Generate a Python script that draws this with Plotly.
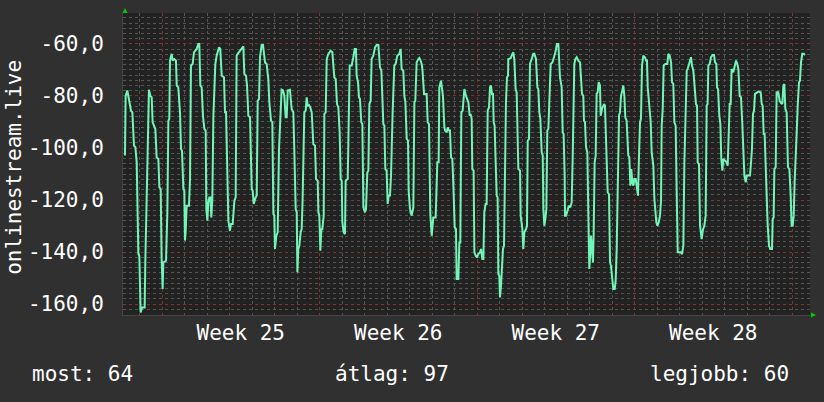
import plotly.graph_objects as go

# time in hours relative to Monday 00:00 of Week 25, value in dB
hours = [
    -39.5, -38.8, -37.0, -35.6, -34.8, -33.1, -31.6, -29.9, -28.4, -27.0, -26.0, -25.2, -24.2, -23.5, -22.8,
    -21.3, -18.5, -17.8, -16.7, -16.0, -14.9, -13.9, -12.4, -11.0, -10.0, -8.2, -7.1, -5.7, -3.9, -2.8, -1.4,
    -0.4, 0.7, 1.4, 4.3, 5.7, 6.8, 7.8, 8.5, 10.3, 11.4, 13.2, 14.9, 15.7, 17.4, 19.2, 20.3, 21.3, 22.8, 23.8,
    24.5, 25.2, 26.3, 28.8, 29.9, 30.9, 32.7, 34.1, 37.0, 38.8, 39.8, 40.9, 42.3, 43.7, 45.2, 46.6, 47.3, 48.4,
    49.4, 50.5, 51.6, 52.6, 53.7, 54.8, 55.8, 56.9, 58.3, 59.4, 60.8, 62.2, 63.7, 66.1, 67.2, 68.3, 69.0, 69.7,
    70.8, 72.5, 73.6, 75.4, 77.2, 78.6,
    79.6, 80.7, 83.2, 85.0, 86.8, 87.8, 89.6, 90.7, 92.1, 93.9, 94.6, 95.7, 96.7, 97.8, 99.9, 101.0, 102.1,
    103.5, 104.5, 106.3, 107.7, 108.8, 109.9, 111.6, 113.4, 114.5, 116.3, 117.7, 118.8, 119.8, 120.5, 122.0,
    123.4, 124.8, 125.9, 127.6, 129.1, 130.5, 131.9, 133.0, 134.1, 136.5, 138.3, 140.1, 141.2, 142.6, 143.7,
    144.4, 145.4, 146.5, 147.9, 149.0, 150.0, 151.8, 153.3, 154.3, 155.4, 156.8, 158.2, 159.7, 161.4, 163.2,
    164.3, 166.1, 166.8, 167.8, 168.9, 170.0, 171.0, 172.5, 173.2, 174.6, 175.7, 177.4, 179.9, 181.7, 183.8,
    185.3, 186.7, 188.1, 189.5, 190.6, 191.7, 192.4, 193.8, 195.2, 195.9, 198.1, 200.2,
    202.3, 204.1, 205.5, 206.9, 207.6, 209.1, 210.1, 211.2, 212.6, 213.7, 214.8, 216.5, 217.6, 219.0, 220.1,
    221.2, 222.6, 223.6, 225.4, 227.2, 229.0, 230.8, 231.8, 232.5, 234.0, 235.0, 236.1, 237.2, 238.2, 239.6,
    240.7, 241.8, 243.2, 244.3, 245.3, 246.0, 247.8, 249.2, 251.0, 253.2, 254.6, 255.6, 257.4, 258.5, 259.6,
    261.0, 262.4, 263.1, 264.5, 266.3, 268.1, 269.2, 270.2, 271.6, 273.4, 274.5, 275.9, 277.3, 278.0, 279.5,
    282.3, 283.4, 284.8, 286.2, 287.7, 289.4, 291.9, 293.7, 295.1, 295.8, 297.6, 298.7, 299.7, 301.2, 301.9,
    303.7, 304.7, 306.1, 307.2, 308.3, 309.7, 310.8, 312.2, 313.6, 314.3, 316.1, 317.2, 318.2, 319.3, 320.7,
    321.8, 322.5,
    324.3, 325.7, 326.8, 328.2, 329.2, 330.3, 331.0, 332.4, 333.2, 334.6, 336.0, 337.4, 339.2, 340.3, 341.7,
    342.8, 343.8, 345.2, 346.3, 347.4, 348.8, 349.9, 350.9, 352.0, 353.1, 353.8, 354.8, 355.9, 357.0, 358.0,
    358.8, 359.8, 360.5, 361.6, 362.3, 363.7, 364.8, 365.9, 366.9, 368.0, 369.1, 369.4, 371.9, 373.7, 374.8,
    375.8, 377.2, 378.3, 379.0, 380.1, 381.9, 382.6, 384.4, 385.4, 386.5, 388.3, 389.3, 390.1, 391.5, 392.5,
    394.3, 396.1, 397.2, 398.9, 400.4, 401.4, 402.5, 403.6, 405.0, 406.1, 406.8, 407.8, 408.9, 410.0, 411.0,
    412.1, 414.6, 416.4, 418.1, 419.6, 421.3, 422.8, 424.5, 426.3, 427.4, 428.4, 429.5, 429.9, 430.9, 432.7,
    434.1, 435.6, 437.0, 438.1, 439.8, 440.9, 442.3, 444.1, 445.9,
    448.0, 449.4, 450.1, 451.2, 452.3, 453.7, 454.8, 455.8, 456.9, 457.6, 458.7, 459.7, 460.4, 461.5, 462.6,
    463.6, 464.7, 465.8, 467.2, 467.9, 469.3, 470.4, 471.5, 472.5, 473.6, 474.3, 475.4, 476.8, 477.9, 478.9,
    480.0, 481.4, 482.9, 483.9, 485.0, 486.4, 487.5, 488.5, 489.6, 491.0, 492.1, 493.2, 494.2, 495.6, 497.4,
    498.5, 499.6, 500.6, 501.7, 502.8, 503.8, 505.3, 506.3, 507.7, 508.8, 509.9, 510.9, 512.0, 513.4, 515.2,
    516.3, 517.3, 518.1, 519.5, 521.3, 522.3, 524.1, 525.2, 526.2, 527.3, 528.4, 529.8, 531.2, 532.3, 533.0,
    534.1, 535.1, 536.9, 539.0, 540.1, 541.5, 543.0, 544.0, 545.4, 546.5, 547.9, 549.0, 550.1, 551.5, 553.3,
    554.7, 556.1, 557.2, 558.2, 559.7, 560.7, 561.8, 563.2, 564.3, 565.3, 566.8,
    569.6, 570.7, 571.4, 572.8, 573.9, 575.6, 577.1, 578.5, 579.9, 581.0, 582.0, 582.8, 584.2, 585.6, 587.4,
    588.8, 589.9, 591.3, 592.0, 593.1, 594.5, 595.6, 596.6, 597.7, 598.8, 600.2, 602.3, 603.4, 604.4, 605.5,
    606.6, 607.6, 609.4, 611.2, 612.3, 613.7, 614.8, 616.2, 617.6, 619.0, 620.1, 621.2, 622.6, 623.6, 625.4,
    627.2, 628.3, 629.3, 630.4, 631.5, 632.5, 634.3, 636.1, 638.6, 639.7, 640.7, 641.8, 642.8, 643.9, 645.0,
    646.0, 647.5, 648.9, 650.7, 651.4, 652.4, 653.2, 654.6, 655.6, 657.4, 658.8, 660.3, 661.7, 662.8, 663.8,
    664.9, 666.3, 667.7, 669.2, 670.6, 671.6, 672.7, 673.8, 674.8, 675.9, 677.0, 678.1, 679.5, 680.5, 681.6,
    683.0, 684.5, 685.9,
]

values = [
    -102.9, -80.0, -77.9, -80.0, -82.2, -85.6, -86.3, -99.1, -99.7, -105.5, -119.6, -140.8, -141.4, -161.3, -163.2,
    -161.3, -161.3, -144.0, -122.2, -120.3, -83.7, -77.6, -80.0, -80.5, -90.1, -92.1, -92.7, -103.6, -104.2, -115.1, -115.8,
    -142.7, -154.2, -144.0, -143.3, -124.7, -89.5, -88.8, -66.4, -63.8, -66.4, -65.8, -66.4, -76.0, -76.7, -86.3, -100.4, -101.0, -115.8, -116.4,
    -135.6, -132.4, -122.2, -122.2, -111.9, -68.3, -67.7, -63.2, -61.9, -60.0, -60.0, -76.0, -76.7, -87.6, -92.7, -93.3, -123.5, -127.9,
    -120.9, -119.0, -119.0, -126.7, -119.6, -87.6, -80.0, -67.7, -64.5, -63.2, -61.3, -61.9, -72.2, -72.8, -86.3, -86.3, -100.4, -100.4,
    -127.9, -131.8, -129.2, -129.2, -120.3, -119.0,
    -64.5, -63.8, -62.6, -61.3, -60.9, -71.5, -72.2, -76.0, -87.6, -88.2, -100.4, -115.8, -116.4, -121.5, -119.0, -118.3, -81.8,
    -81.2, -65.1, -60.4, -60.4, -65.1, -67.1, -67.7, -73.5, -82.4, -89.5, -90.1, -125.4, -126.0, -138.8, -133.7,
    -132.4, -100.4, -92.7, -77.6, -77.9, -80.0, -88.2, -88.2, -77.9, -77.6, -85.0, -86.3, -101.7, -123.5, -124.7,
    -147.8, -138.8, -137.6, -132.4, -131.2, -119.6, -86.3, -85.6, -80.5, -83.7, -83.5, -84.4, -86.3, -98.5, -99.1,
    -111.9, -112.6, -124.7, -126.0, -139.5, -131.2, -131.2, -126.0, -86.9, -86.3, -65.8, -63.8, -62.6, -63.2, -72.8,
    -73.5, -83.1, -84.4, -94.0, -111.9, -112.6, -128.6, -132.4, -133.1, -112.6, -111.9, -68.3,
    -68.3, -65.1, -61.9, -61.9, -72.2, -74.7, -80.5, -81.2, -90.1, -90.8, -122.8, -124.7, -123.5, -109.4, -108.7,
    -83.1, -81.8, -65.8, -64.5, -61.3, -60.4, -60.4, -64.5, -69.0, -70.3, -82.4, -90.8, -91.4, -108.1, -108.7,
    -121.5, -118.3, -118.3, -110.6, -87.6, -86.3, -68.3, -67.7, -64.5, -63.8, -61.9, -69.6, -70.3, -80.0, -82.4,
    -96.5, -97.2, -116.4, -123.5, -126.0, -122.8, -82.4, -81.8, -67.1, -65.8, -65.4, -66.4, -68.3, -70.9, -79.2,
    -79.2, -90.1, -90.8, -125.4, -133.7, -126.7, -126.7, -105.5, -105.5, -76.7, -74.1, -76.7, -80.0, -92.1, -93.3,
    -94.0, -92.1, -93.3, -93.3, -103.6, -104.2, -114.5, -130.5, -131.2, -150.4, -150.4, -136.3, -136.3, -86.3, -85.6,
    -77.9, -77.3,
    -80.0, -81.2, -82.4, -87.6, -86.9, -88.8, -108.1, -108.7, -140.1, -141.4, -142.1, -140.8, -140.1, -138.8, -142.7,
    -142.7, -124.7, -121.5, -121.5, -85.6, -84.4, -76.7, -76.0, -79.2, -79.2, -90.1, -91.4, -105.5, -118.3, -119.0,
    -148.5, -149.1, -157.4, -153.0, -147.8, -138.8, -137.6, -104.2, -82.4, -72.8, -72.2, -65.8, -65.5, -63.8, -63.2,
    -65.8, -77.3, -78.6, -92.1, -108.1, -108.7, -126.0, -131.2, -138.8, -132.4, -131.2, -129.9, -97.2, -96.5, -67.7,
    -65.8, -63.8, -63.8, -65.8, -76.7, -77.3, -86.3, -88.8, -101.7, -102.9, -123.5, -129.9, -127.3, -123.5, -93.3,
    -92.7, -67.7, -67.1, -65.1, -63.2, -60.0, -60.0, -72.8, -76.7, -94.0, -94.6, -110.6, -126.0, -126.0, -123.5,
    -122.2, -122.8, -120.9, -102.9, -67.7, -65.8, -65.1, -66.4, -67.1,
    -79.2, -79.9, -89.5, -90.1, -99.7, -101.7, -126.0, -146.5, -140.1, -133.7, -138.8, -144.0, -133.7, -105.5, -102.9,
    -79.2, -78.6, -74.7, -76.0, -87.6, -85.0, -83.7, -83.1, -83.7, -101.0, -101.7, -117.1, -117.7, -144.0, -145.3,
    -150.4, -154.2, -154.2, -151.0, -138.8, -115.8, -87.6, -86.3, -80.0, -77.9, -76.0, -80.0, -88.2, -89.5, -102.9,
    -103.6, -114.5, -108.1, -113.2, -114.5, -111.9, -111.9, -114.5, -118.3, -102.9, -90.1, -88.8, -68.3, -64.5, -65.1,
    -66.4, -66.4, -76.7, -82.4, -90.1, -101.7, -106.8, -119.6, -125.4, -128.6, -129.9, -128.6, -126.0, -120.3, -91.4,
    -85.0, -68.3, -67.7, -67.7, -63.8, -64.5, -67.1, -74.7, -75.4, -90.1, -91.4, -117.1, -140.1, -140.1, -140.1,
    -140.8, -137.6, -105.5, -88.8, -70.3, -69.6, -68.3, -65.8, -65.1, -68.3, -70.3,
    -83.1, -83.7, -105.5, -106.2, -129.9, -135.0, -131.2, -129.9, -126.0, -83.7, -83.1, -68.3, -67.7, -65.1, -64.2,
    -64.2, -67.1, -67.7, -76.7, -77.3, -87.6, -90.8, -104.2, -108.7, -104.2, -104.9, -105.5, -106.8, -94.0, -83.1,
    -83.1, -69.6, -70.9, -67.7, -66.4, -67.7, -69.6, -80.0, -80.5, -90.8, -101.7, -110.6, -113.2, -110.6, -110.6,
    -110.6, -105.5, -100.4, -86.9, -85.6, -79.2, -78.6, -78.3, -78.6, -83.1, -83.7, -94.6, -94.6, -106.2, -120.9,
    -129.2, -137.6, -138.8, -138.8, -127.3, -126.7, -108.1, -107.4, -78.6, -78.6, -81.8, -82.7, -83.1, -76.0, -75.4,
    -85.0, -86.3, -107.4, -108.1, -118.3, -129.9, -129.9, -126.0, -113.2, -99.1, -94.0, -83.7, -74.7, -74.1, -67.1,
    -63.8, -63.8, -64.2,
]

week_labels = ["Week 25", "Week 26", "Week 27", "Week 28"]
week_centers = [84, 252, 420, 588]
week_starts = [0, 168, 336, 504, 672]
y_ticks = [-60, -80, -100, -120, -140, -160]
y_tick_text = ["-60,0", "-80,0", "-100,0", "-120,0", "-140,0", "-160,0"]
y_title = "onlinestream.live"
stat_texts = ["most: 64", "átlag: 97", "legjobb: 60"]

FONT = "DejaVu Sans Mono"
FS = 21
BG = "#303030"
PLOT_BG = "#222222"
MINOR = "#555555"
MAJOR = "#7a3434"
LINE = "#72f5b8"
ARROW = "#00cc00"

fig = go.Figure()
fig.add_trace(go.Scatter(x=hours, y=values, mode="lines",
                         line=dict(color=LINE, width=2), hoverinfo="skip", showlegend=False))
# invisible trace to create the week-gridline axis
fig.add_trace(go.Scatter(x=[week_starts[0]], y=[values[0]], xaxis="x2", mode="markers",
                         marker=dict(opacity=0), hoverinfo="skip", showlegend=False))

xr = [-41.6, 691.2]
yr = [-164.2, -48.1]

fig.update_layout(
    width=824, height=402,
    margin=dict(l=123, r=14, t=13, b=87),
    paper_bgcolor=BG, plot_bgcolor=PLOT_BG,
    font=dict(family=FONT, size=FS, color="#ffffff"),
    xaxis=dict(range=xr, tickmode="array", tickvals=week_centers, ticktext=week_labels,
               showgrid=False, zeroline=False, ticks="", ticklabelstandoff=-1,
               tickfont=dict(family=FONT, size=FS, color="#ffffff"),
               minor=dict(tickmode="linear", tick0=0, dtick=24, showgrid=True,
                          gridcolor=MINOR, griddash="dot", gridwidth=1, ticks=""),
               showline=True, linecolor="#444444", linewidth=1, fixedrange=True),
    xaxis2=dict(range=xr, overlaying="x", side="bottom", tickmode="array", tickvals=week_starts,
                showticklabels=False, showgrid=True, gridcolor=MAJOR, griddash="dot", gridwidth=1,
                zeroline=False, ticks="", fixedrange=True),
    yaxis=dict(range=yr, tickmode="array", tickvals=y_ticks, ticktext=y_tick_text,
               showgrid=True, gridcolor=MAJOR, griddash="dot", gridwidth=1,
               zeroline=False, ticks="", ticklabelstandoff=14,
               tickfont=dict(family=FONT, size=FS, color="#ffffff"),
               minor=dict(tickmode="linear", tick0=0, dtick=2, showgrid=True,
                          gridcolor=MINOR, griddash="dot", gridwidth=1, ticks=""),
               showline=True, linecolor="#444444", linewidth=1, fixedrange=True),
    annotations=[
        dict(text=y_title, textangle=-90, xref="paper", yref="paper", x=-0.159, y=0.49,
             xanchor="center", yanchor="middle", showarrow=False,
             font=dict(family=FONT, size=FS, color="#ffffff")),
        dict(text=stat_texts[0], xref="paper", yref="paper", x=-0.135, y=-0.197,
             xanchor="left", yanchor="middle", showarrow=False,
             font=dict(family=FONT, size=FS, color="#ffffff")),
        dict(text=stat_texts[1], xref="paper", yref="paper", x=0.3916, y=-0.197,
             xanchor="center", yanchor="middle", showarrow=False,
             font=dict(family=FONT, size=FS, color="#ffffff")),
        dict(text=stat_texts[2], xref="paper", yref="paper", x=0.9724, y=-0.197,
             xanchor="right", yanchor="middle", showarrow=False,
             font=dict(family=FONT, size=FS, color="#ffffff")),
    ],
    shapes=[
        dict(type="path", xref="x domain", yref="y domain", xsizemode="pixel", ysizemode="pixel",
             xanchor=0, yanchor=1, path="M -0.5,0 L 4.5,0 L 2,5 Z",
             fillcolor=ARROW, line=dict(width=0), layer="above"),
        dict(type="path", xref="x domain", yref="y domain", xsizemode="pixel", ysizemode="pixel",
             xanchor=1, yanchor=0, path="M 1,-2.5 L 1,2.5 L 6,0 Z",
             fillcolor=ARROW, line=dict(width=0), layer="above"),
    ],
)

fig.write_html("out.html")
